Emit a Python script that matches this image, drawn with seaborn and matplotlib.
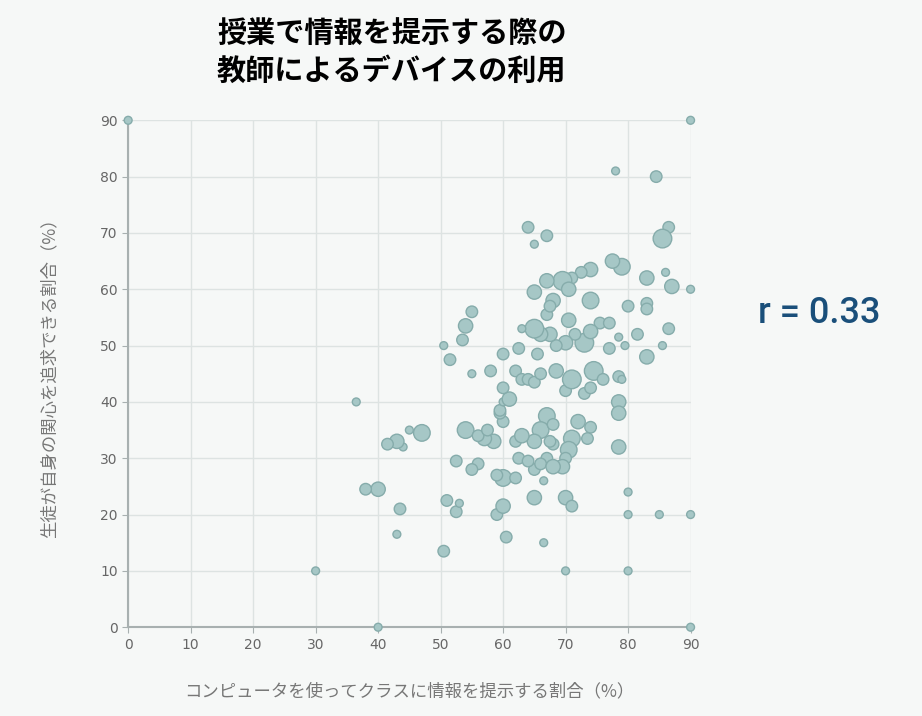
import matplotlib
matplotlib.use("Agg")
import matplotlib.pyplot as plt
import seaborn as sns
import pandas as pd

pts = [(0,90,1),(90,90,1),(78,81,1),(84.5,80,1.5),(86.5,71,1.5),(85.5,69,3),(64,71,1.5),(67,69.5,1.5),(65,68,1),
(86,63,1),(87,60.5,2),(90,60,1),(83,62,2),(79,64,2.5),(77.5,65,2),(74,63.5,2),(72.5,63,1.5),(71,62,1.5),(69.5,61.5,3),
(67,61.5,2),(65,59.5,2),(68,58,2),(70.5,60,2),(74,58,2.5),(75.5,54,1.5),(77,54,1.5),(80,57,1.5),(83,57.5,1.5),(83,56.5,1.5),
(86.5,53,1.5),(85.5,50,1),(83,48,2),(81.5,52,1.5),(79.5,50,1),(78.5,51.5,1),(77,49.5,1.5),(73,50.5,3),(74,52.5,2),
(71.5,52,1.5),(70.5,54.5,2),(70,50.5,2),(68.5,50,1.5),(67.5,52,2),(66,52,2),(65,53,3),(63,53,1),(67,55.5,1.5),(67.5,57,1.5),
(65.5,48.5,1.5),(62.5,49.5,1.5),(60,48.5,1.5),(55,56,1.5),(54,53.5,2),(53.5,51,1.5),(50.5,50,1),(51.5,47.5,1.5),(55,45,1),
(58,45.5,1.5),(62,45.5,1.5),(63,44,1.5),(64,44,1.5),(65,43.5,1.5),(66,45,1.5),(68.5,45.5,2),(70,42,1.5),(71,44,3),(73,41.5,1.5),
(74.5,45.5,3),(76,44,1.5),(78.5,44.5,1.5),(79,44,1),(74,42.5,1.5),(78.5,40,2),(78.5,38,2),(72,36.5,2),(74,35.5,1.5),(73.5,33.5,1.5),
(78.5,32,2),(71,33.5,2.5),(70.5,31.5,2.5),(70,30,1.5),(69.5,28.5,2),(70,23,2),(71,21.5,1.5),(70,10,1),(66.5,15,1),(67,37.5,2.5),
(66,35,2.5),(68,36,1.5),(68,32.5,1.5),(65,33,2),(67,30,1.5),(65,28,1.5),(66,29,1.5),(66.5,26,1),(68,28.5,2),(65,23,2),
(60,26.5,2.5),(59,20,1.5),(60,21.5,2),(60.5,16,1.5),(59,27,1.5),(58.5,33,2),(60,36.5,1.5),(59.5,38,1.5),(59.5,38.5,1.5),
(60,40,1),(61,40.5,2),(60,42.5,1.5),(57,33.5,2),(56,29,1.5),(55,28,1.5),(54,35,2.5),(56,34,1.5),(57.5,35,1.5),(62,33,1.5),
(63,34,2),(62.5,30,1.5),(64,29.5,1.5),(62,26.5,1.5),(52.5,29.5,1.5),(51,22.5,1.5),(52.5,20.5,1.5),(53,22,1),(50.5,13.5,1.5),
(47,34.5,2.5),(45,35,1),(44,32,1),(43,33,2),(41.5,32.5,1.5),(40,24.5,2),(38,24.5,1.5),(43.5,21,1.5),(43,16.5,1),(36.5,40,1),
(30,10,1),(40,0,1),(80,24,1),(80,20,1),(80,10,1),(85,20,1),(90,20,1),(90,0,1),(67.5,33,1.5)]
x_vals = [p[0] for p in pts]
y_vals = [p[1] for p in pts]
size_vals = [p[2] for p in pts]
ticks = [0,10,20,30,40,50,60,70,80,90]

plt.rcParams['font.family'] = ['Noto Sans CJK JP', 'DejaVu Sans']
df = pd.DataFrame({'x': x_vals, 'y': y_vals, 's': size_vals})
fig = plt.figure(figsize=(9.22, 7.16), dpi=100, facecolor='#f6f8f7')
ax = fig.add_axes([0.139, 0.124, 0.61, 0.708])
ax.set_facecolor('#f6f8f7')
sns.scatterplot(data=df, x='x', y='y', size='s', sizes=(32, 180), size_norm=(1, 3),
                color='#a6c7c6', edgecolor='#86acab', linewidth=1, alpha=1, legend=False,
                ax=ax, clip_on=False, zorder=3)
ax.set_xlim(0, 90); ax.set_ylim(0, 90)
ax.set_xticks(ticks); ax.set_yticks(ticks)
ax.grid(True, color='#dde3e2', lw=1)
ax.set_axisbelow(True)
for s in ['top', 'right']:
    ax.spines[s].set_visible(False)
for s in ['left', 'bottom']:
    ax.spines[s].set_color('#a8b0b0'); ax.spines[s].set_linewidth(1.5)
ax.tick_params(colors='#666666', labelsize=10, length=4, color='#a8b0b0')
for lab in ax.get_xticklabels() + ax.get_yticklabels():
    lab.set_family(['DejaVu Sans'])
ax.set_xlabel('コンピュータを使ってクラスに情報を提示する割合（%）', color='#777777', fontsize=12.5, labelpad=22)
ax.set_ylabel('生徒が自身の関心を追求できる割合（%）', color='#777777', fontsize=12.5, labelpad=30)
fig.text(0.425, 0.975, '授業で情報を提示する際の\n教師によるデバイスの利用', ha='center', va='top',
         fontsize=21, fontweight='bold', linespacing=1.35)
fig.text(0.889, 0.562, 'r = 0.33', ha='center', va='center', fontsize=26, color='#1a4f7a',
         fontweight='medium', family=['Roboto', 'DejaVu Sans'])
fig.savefig('out.png', dpi=100, facecolor=fig.get_facecolor())
